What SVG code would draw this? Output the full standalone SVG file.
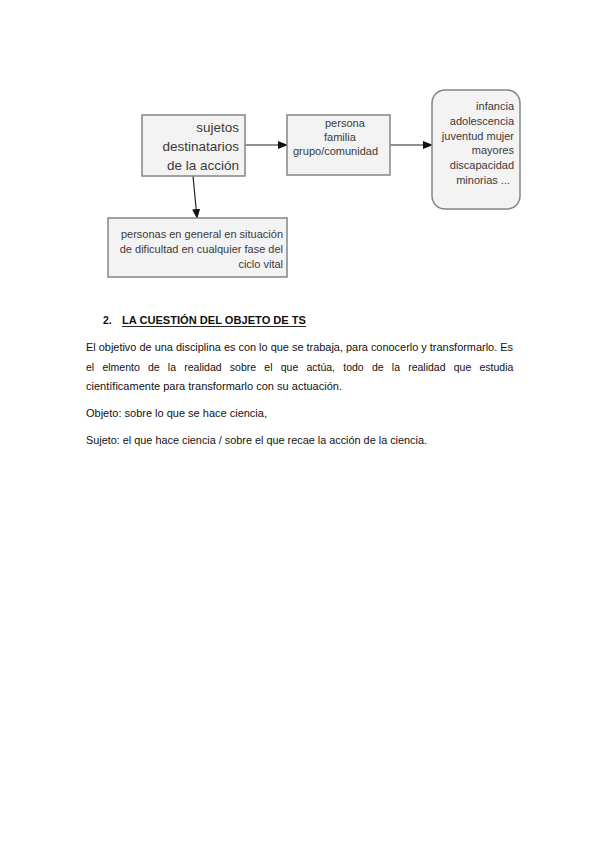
<svg xmlns="http://www.w3.org/2000/svg" width="599" height="848" viewBox="0 0 599 848">
<defs>
<marker id="arr" markerWidth="10" markerHeight="8" refX="9" refY="4" orient="auto" markerUnits="userSpaceOnUse">
<path d="M0,0 L10,4 L0,8 Z" fill="#111"/>
</marker>
<style>
.box{fill:#f3f3f3;stroke:#858585;stroke-width:1.5}
.nt{font-family:"Liberation Sans",Arial,sans-serif;fill:#3a3a3a}
.body{font-family:"Liberation Sans",Arial,sans-serif;font-size:10.5px;fill:#111}
.edge{stroke:#222;stroke-width:1.2;fill:none}
</style>
</defs>
<rect width="599" height="848" fill="#fff"/>
<g id="connectors">
<line class="edge" x1="245" y1="145" x2="287" y2="145" marker-end="url(#arr)"/>
<line class="edge" x1="390" y1="145" x2="432" y2="145" marker-end="url(#arr)"/>
<line class="edge" x1="193" y1="176" x2="197" y2="218" marker-end="url(#arr)"/>
</g>
<g id="n-sujetos">
<rect class="box" x="142" y="115" width="103" height="61"/>
<text class="nt" font-size="13.5" text-anchor="end"><tspan x="239" y="132">sujetos</tspan><tspan x="239" y="151">destinatarios</tspan><tspan x="239" y="170">de la acción</tspan></text>
</g>
<g id="n-persona">
<rect class="box" x="287" y="115" width="103" height="60"/>
<text class="nt" font-size="11"><tspan x="325" y="127">persona</tspan><tspan x="324" y="141">familia</tspan><tspan x="293" y="155">grupo/comunidad</tspan></text>
</g>
<g id="n-colectivos">
<rect class="box" x="432" y="90" width="88" height="119" rx="13" ry="13"/>
<text class="nt" font-size="11" text-anchor="end"><tspan x="514" y="110">infancia</tspan><tspan x="514" y="125">adolescencia</tspan><tspan x="514" y="140">juventud mujer</tspan><tspan x="514" y="154">mayores</tspan><tspan x="514" y="169">discapacidad</tspan><tspan x="510" y="184">minorias ...</tspan></text>
</g>
<g id="n-personas">
<rect class="box" x="108" y="218" width="179" height="59"/>
<text class="nt" font-size="11" text-anchor="end"><tspan x="283" y="238">personas en general en situación</tspan><tspan x="283" y="253">de dificultad en cualquier fase del</tspan><tspan x="283" y="268">ciclo vital</tspan></text>
</g>
<g id="text">
<text x="103" y="324" font-family="'Liberation Sans',Arial,sans-serif" font-size="10.5" font-weight="bold" fill="#111">2.</text>
<text x="122" y="324" font-family="'Liberation Sans',Arial,sans-serif" font-size="10.5" font-weight="bold" fill="#111" textLength="184" lengthAdjust="spacingAndGlyphs">LA CUESTIÓN DEL OBJETO DE  TS</text>
<line x1="122" y1="326.5" x2="306" y2="326.5" stroke="#111" stroke-width="0.9"/>
<text class="body" x="86" y="351" textLength="427" lengthAdjust="spacingAndGlyphs">El objetivo de una disciplina es con lo que se trabaja, para conocerlo y transformarlo. Es</text>
<text class="body" x="86" y="371" word-spacing="5.3">el elmento de la realidad sobre el que actúa, todo de la realidad que estudia</text>
<text class="body" x="86" y="390" textLength="256" lengthAdjust="spacingAndGlyphs">científicamente para transformarlo con su actuación.</text>
<text class="body" x="86" y="417" textLength="181" lengthAdjust="spacingAndGlyphs">Objeto: sobre lo que se hace ciencia,</text>
<text class="body" x="86" y="444" textLength="341" lengthAdjust="spacingAndGlyphs">Sujeto: el que hace ciencia / sobre el que recae la acción de la ciencia.</text>
</g>
</svg>
